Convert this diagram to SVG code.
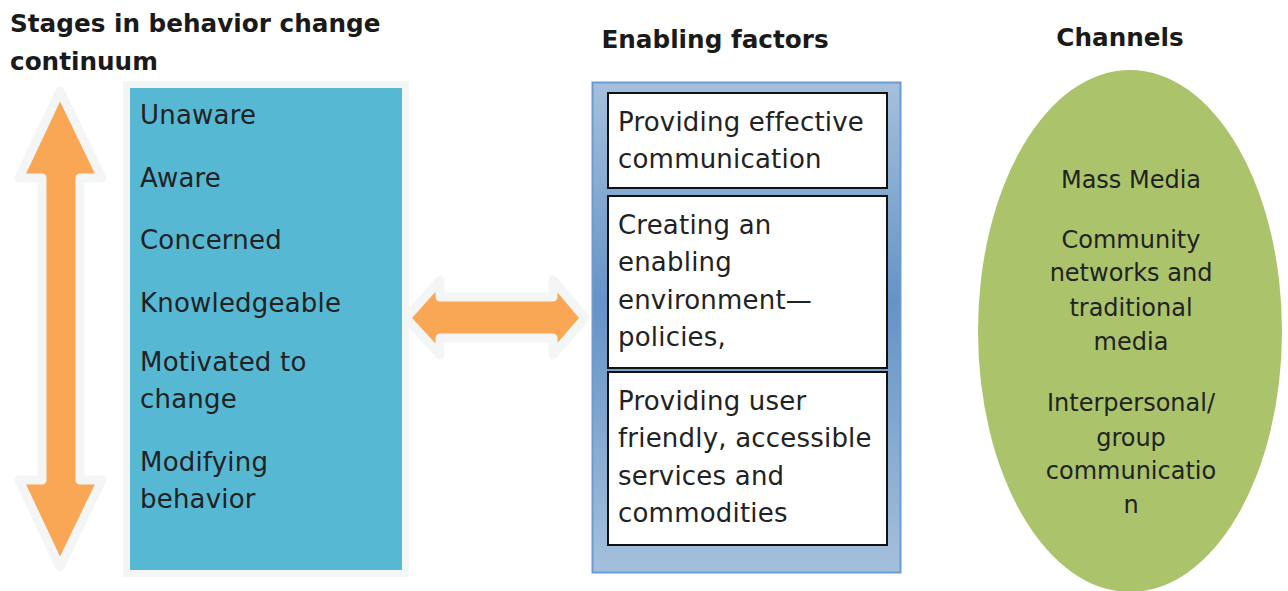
<svg xmlns="http://www.w3.org/2000/svg" width="1288" height="591" viewBox="0 0 1288 591">
<defs>
<linearGradient id="blueGrad" x1="0" y1="0" x2="0" y2="1">
<stop offset="0" stop-color="#a5c0dc"/>
<stop offset="0.45" stop-color="#6593c6"/>
<stop offset="1" stop-color="#a5c0dc"/>
</linearGradient>
<style>
.title{font-family:"DejaVu Sans",Verdana,sans-serif;font-weight:bold;font-size:24.7px;fill:#1a1a1a}
.t{font-family:"DejaVu Sans",Verdana,sans-serif;font-size:26px;letter-spacing:0.2px;fill:#222}
.c{font-family:"DejaVu Sans",Verdana,sans-serif;font-size:24px;fill:#222;text-anchor:middle}
.arrow{fill:#f9a655;stroke:#f4f6f6;stroke-width:9;stroke-linejoin:round}
.box{fill:#fff;stroke:#111;stroke-width:2}
</style>
</defs>
<rect width="1288" height="591" fill="#fff"/>
<g id="titles">
<text class="title" x="10" y="32">Stages in behavior change</text>
<text class="title" x="10" y="70">continuum</text>
<text class="title" x="715" y="48" text-anchor="middle">Enabling factors</text>
<text class="title" x="1120" y="46" text-anchor="middle">Channels</text>
</g>
<g id="connectors">
<path class="arrow" d="M60,91 L102,178 L80,178 L80,480 L102,480 L60,567 L19,480 L42,480 L42,178 L19,178 Z"/>
<path class="arrow" d="M406,318 L440,280 L440,297 L553,297 L553,280 L585,318 L553,355 L553,338 L440,338 L440,355 Z"/>
</g>
<g id="stages">
<rect x="126.500" y="84.500" width="279" height="489" fill="#57b8d3" stroke="#f4f6f6" stroke-width="7"/>
<text class="t" x="140" y="124">Unaware</text>
<text class="t" x="140" y="187">Aware</text>
<text class="t" x="140" y="249">Concerned</text>
<text class="t" x="140" y="312">Knowledgeable</text>
<text class="t" x="140" y="371">Motivated to</text>
<text class="t" x="140" y="408">change</text>
<text class="t" x="140" y="471">Modifying</text>
<text class="t" x="140" y="508">behavior</text>
</g>
<g id="enabling">
<rect x="592.500" y="82.500" width="308" height="490" fill="url(#blueGrad)" stroke="#6a9bd1" stroke-width="2"/>
<g id="factor1">
<rect class="box" x="608" y="93" width="279" height="95"/>
<text class="t" x="618" y="131">Providing effective</text>
<text class="t" x="618" y="168">communication</text>
</g>
<g id="factor2">
<rect class="box" x="608" y="196" width="279" height="172"/>
<text class="t" x="618" y="234">Creating an</text>
<text class="t" x="618" y="271">enabling</text>
<text class="t" x="618" y="309">environment—</text>
<text class="t" x="618" y="346">policies,</text>
</g>
<g id="factor3">
<rect class="box" x="608" y="372" width="279" height="173"/>
<text class="t" x="618" y="410">Providing user</text>
<text class="t" x="618" y="447">friendly, accessible</text>
<text class="t" x="618" y="485">services and</text>
<text class="t" x="618" y="522">commodities</text>
</g>
</g>
<g id="channels">
<ellipse cx="1130" cy="331" rx="152" ry="261" fill="#abc46c"/>
<text class="c" x="1131" y="188">Mass Media</text>
<text class="c" x="1131" y="248">Community</text>
<text class="c" x="1131" y="281">networks and</text>
<text class="c" x="1131" y="316">traditional</text>
<text class="c" x="1131" y="350">media</text>
<text class="c" x="1131" y="411">Interpersonal/</text>
<text class="c" x="1131" y="446">group</text>
<text class="c" x="1131" y="479">communicatio</text>
<text class="c" x="1131" y="513">n</text>
</g>
</svg>
